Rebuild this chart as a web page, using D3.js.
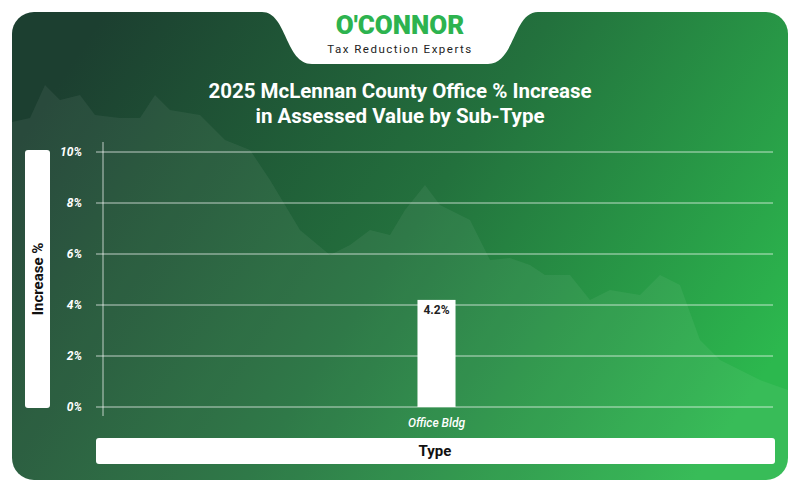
<!DOCTYPE html><html><head><meta charset="utf-8"><script src="https://cdn.jsdelivr.net/npm/d3@7"></script>
<style>body{margin:0;background:#fff}</style></head><body><svg id="c" width="800" height="492"></svg>
<script>
const categories=["Office Bldg"];
const values=[4.2];
const yTicks=[0,2,4,6,8,10];
const title=["2025 McLennan County Office % Increase","in Assessed Value by Sub-Type"];
const svg=d3.select("#c");
const defs=svg.append("defs");
const g=defs.append("linearGradient").attr("id","bg").attr("x1","0").attr("y1","0.3").attr("x2","1").attr("y2","0.7");
g.append("stop").attr("offset","0").attr("stop-color","#1c3f30");
g.append("stop").attr("offset","0.5").attr("stop-color","#23713d");
g.append("stop").attr("offset","1").attr("stop-color","#2cb84e");
svg.append("rect").attr("x",12).attr("y",12).attr("width",776).attr("height",468).attr("rx",22).attr("fill","url(#bg)");
const sil=[[12,122],[30,118],[45,85],[60,100],[80,95],[95,115],[120,118],[140,118],[155,95],[170,110],[200,115],[225,140],[250,150],[270,180],[300,230],[330,255],[350,245],[370,230],[390,235],[405,210],[425,185],[440,205],[470,220],[490,260],[510,258],[530,265],[545,275],[570,275],[590,300],[610,290],[640,295],[660,275],[680,285],[700,340],[720,360],[760,380],[788,390],[788,480],[12,480]];
svg.append("path").attr("d",d3.line()(sil)).attr("fill","#ffffff").attr("opacity",0.06);
svg.append("path").attr("d","M262,12 C287,12 285,64 312,64 L488,64 C515,64 513,12 538,12 Z").attr("fill","#fff");
svg.append("text").attr("x",400).attr("y",34).attr("text-anchor","middle").attr("font-family","Roboto").attr("font-weight",900).attr("font-size",26).attr("fill","#2db34f").text("O'CONNOR");
svg.append("text").attr("x",400).attr("y",53).attr("text-anchor","middle").attr("font-family","Roboto").attr("font-size",11.5).attr("letter-spacing",1.5).attr("fill","#222").text("Tax Reduction Experts");
svg.append("text").attr("text-anchor","middle").attr("font-family","Roboto").attr("font-weight",700).attr("font-size",20.5).attr("fill","#fff")
 .selectAll("tspan").data(title).join("tspan").attr("x",400).attr("y",(d,i)=>98+i*25).text(d=>d);
const x=d3.scaleBand().domain(categories).range([100,773]).padding(0.893);
const y=d3.scaleLinear().domain([0,10]).range([407,152]);
const ga=svg.append("g");
ga.selectAll("line.gr").data(yTicks).join("line").attr("x1",96).attr("x2",773).attr("y1",d=>y(d)).attr("y2",d=>y(d)).attr("stroke","#fff").attr("stroke-opacity",0.7).attr("stroke-width",1);
ga.append("line").attr("x1",103).attr("x2",103).attr("y1",142).attr("y2",416).attr("stroke","#fff").attr("stroke-opacity",0.7);
ga.selectAll("text.yt").data(yTicks).join("text").attr("x",82).attr("y",d=>y(d)+4).attr("text-anchor","end").attr("font-family","Roboto").attr("font-style","italic").attr("font-weight",700).attr("font-size",12).attr("fill","#fff").text(d=>d+"%");
svg.selectAll("rect.bar").data(values).join("rect").attr("x",(d,i)=>x(categories[i])).attr("width",x.bandwidth()).attr("y",d=>y(d)).attr("height",d=>y(0)-y(d)).attr("fill","#fff");
svg.selectAll("text.v").data(values).join("text").attr("x",(d,i)=>x(categories[i])+x.bandwidth()/2).attr("y",d=>y(d)+14).attr("text-anchor","middle").attr("font-family","Roboto").attr("font-weight",700).attr("font-size",12).attr("fill","#222").text(d=>d.toFixed(1)+"%");
svg.selectAll("text.xt").data(categories).join("text").attr("x",d=>x(d)+x.bandwidth()/2).attr("y",427).attr("text-anchor","middle").attr("font-family","Roboto").attr("font-style","italic").attr("font-weight",500).attr("font-size",12).attr("fill","#fff").text(d=>d);
svg.append("rect").attr("x",25).attr("y",150).attr("width",25).attr("height",258).attr("rx",3).attr("fill","#fff");
svg.append("text").attr("transform","translate(43,279) rotate(-90)").attr("text-anchor","middle").attr("font-family","Roboto").attr("font-weight",700).attr("font-size",15).attr("fill","#111").text("Increase %");
svg.append("rect").attr("x",96).attr("y",438).attr("width",679).attr("height",26).attr("rx",3).attr("fill","#fff");
svg.append("text").attr("x",435).attr("y",456).attr("text-anchor","middle").attr("font-family","Roboto").attr("font-weight",700).attr("font-size",15).attr("fill","#111").text("Type");
</script></body></html>
